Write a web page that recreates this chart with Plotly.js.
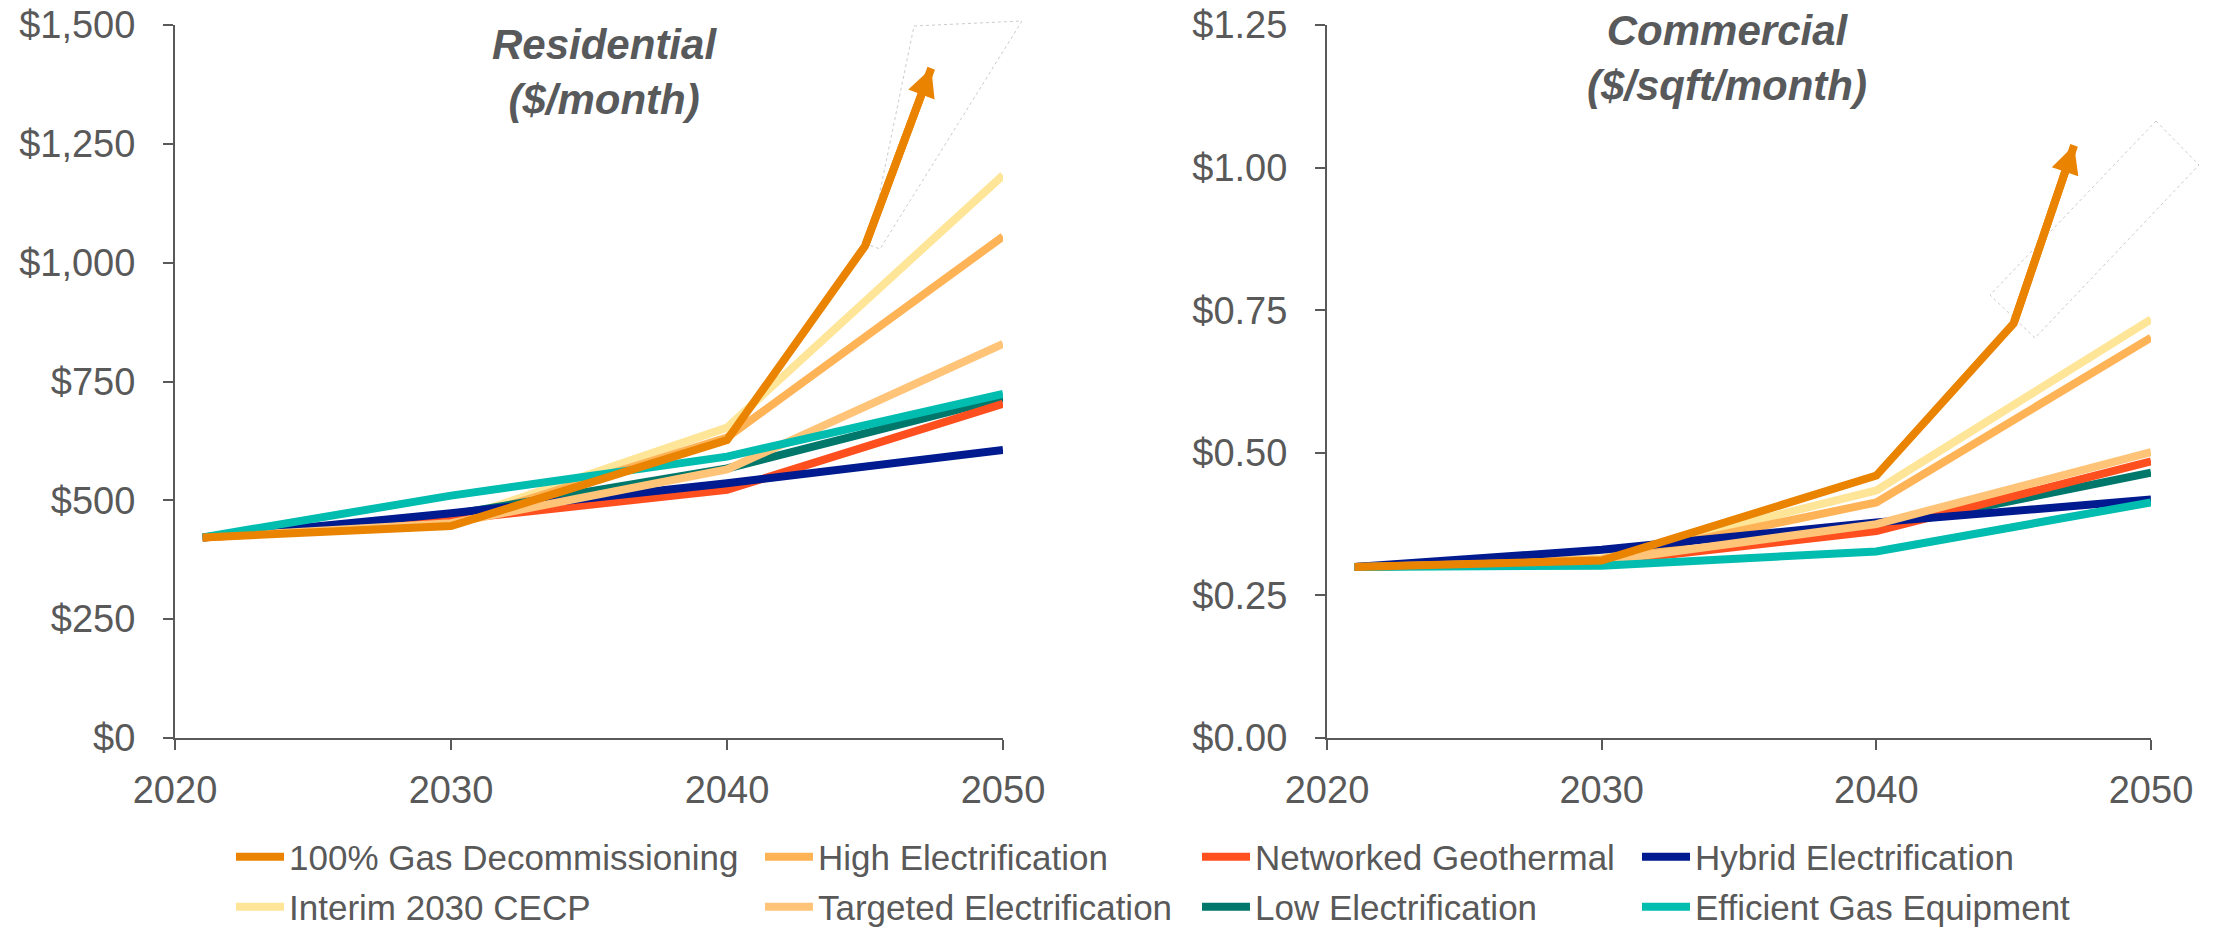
<!DOCTYPE html>
<html>
<head>
<meta charset="utf-8">
<script src="https://cdn.plot.ly/plotly-3.0.1.min.js"></script>
<style>
  html, body { margin: 0; padding: 0; background: #ffffff; }
  #chart { width: 2213px; height: 929px; }
</style>
</head>
<body>
<div id="chart"></div>
<script>
// Scenario years
const years = [2021, 2030, 2040, 2050];
const resGasYears = [2021, 2030, 2040, 2045, 2047.4];
const comGasYears = [2021, 2030, 2040, 2045, 2047.2];

// Residential bills ($/month)
const resGasDecommissioning = [422, 446, 627, 1035, 1409];
const resHighElectrification = [422, 452, 632, 1055];
const resNetworkedGeothermal = [422, 459, 522, 703];
const resHybridElectrification = [422, 473, 536, 606];
const resInterimCECP = [422, 456, 653, 1184];
const resTargetedElectrification = [422, 452, 565, 829];
const resLowElectrification = [422, 470, 567, 715];
const resEfficientGas = [422, 510, 592, 724];

// Commercial bills ($/sqft/month)
const comGasDecommissioning = [0.300, 0.311, 0.460, 0.727, 1.039];
const comHighElectrification = [0.300, 0.313, 0.413, 0.702];
const comNetworkedGeothermal = [0.300, 0.308, 0.363, 0.485];
const comHybridElectrification = [0.300, 0.330, 0.378, 0.418];
const comInterimCECP = [0.300, 0.315, 0.434, 0.734];
const comTargetedElectrification = [0.300, 0.310, 0.375, 0.501];
const comLowElectrification = [0.300, 0.309, 0.368, 0.465];
const comEfficientGas = [0.300, 0.302, 0.327, 0.413];

// Tick labels
const xTicks = [2020, 2030, 2040, 2050];

const W = 2213, H = 929;
const px = x => x / W;
const py = y => 1 - y / H;

const FONT = 'Liberation Sans, Arial, Helvetica, sans-serif';
const GREY = '#595959';
const LINE_W = 8;

// Legend slots: two rows of four columns, one single-entry legend per slot
const legendCols = [231, 760, 1197, 1637];
const legendRows = [857, 907];

// drawn bottom to top; col/row place the legend entry
const series = [
  { name: 'Interim 2030 CECP', color: '#FFE597', col: 0, row: 1, res: resInterimCECP, com: comInterimCECP },
  { name: 'High Electrification', color: '#FFB357', col: 1, row: 0, res: resHighElectrification, com: comHighElectrification },
  { name: 'Low Electrification', color: '#00776B', col: 2, row: 1, res: resLowElectrification, com: comLowElectrification },
  { name: 'Networked Geothermal', color: '#FF4F1F', col: 2, row: 0, res: resNetworkedGeothermal, com: comNetworkedGeothermal },
  { name: 'Hybrid Electrification', color: '#001A8F', col: 3, row: 0, res: resHybridElectrification, com: comHybridElectrification },
  { name: 'Targeted Electrification', color: '#FFC478', col: 1, row: 1, res: resTargetedElectrification, com: comTargetedElectrification },
  { name: 'Efficient Gas Equipment', color: '#00BDB0', col: 3, row: 1, res: resEfficientGas, com: comEfficientGas },
];

const legendBase = {
  orientation: 'v', xanchor: 'left', yanchor: 'middle',
  font: { family: FONT, size: 35, color: GREY },
  bgcolor: 'rgba(0,0,0,0)', borderwidth: 0, itemwidth: 48
};
const legendLayouts = {};
let legendCount = 0;
function legendFor(col, row) {
  legendCount += 1;
  const id = legendCount === 1 ? 'legend' : 'legend' + legendCount;
  legendLayouts[id] = Object.assign({}, legendBase, { x: px(legendCols[col]), y: py(legendRows[row]) });
  return id;
}

const traces = [];
series.forEach(s => {
  traces.push({
    type: 'scatter', mode: 'lines', name: s.name, x: years, y: s.res,
    xaxis: 'x', yaxis: 'y', legend: legendFor(s.col, s.row),
    line: { color: s.color, width: LINE_W }
  });
  traces.push({
    type: 'scatter', mode: 'lines', name: s.name, x: years, y: s.com,
    xaxis: 'x2', yaxis: 'y2', showlegend: false,
    line: { color: s.color, width: LINE_W }
  });
});

// 100% gas decommissioning: the last segment is pulled back under an arrow head
const gasColor = '#E98300';
const gasName = '100% Gas Decommissioning';
const lastBackoff = xs => xs.map((_, i) => (i === xs.length - 1 ? 16 : 0));
traces.push({
  type: 'scatter', mode: 'lines', name: gasName,
  x: resGasYears, y: resGasDecommissioning, xaxis: 'x', yaxis: 'y',
  legend: legendFor(0, 0),
  line: { color: gasColor, width: LINE_W, backoff: lastBackoff(resGasYears) }
});
traces.push({
  type: 'scatter', mode: 'lines', name: gasName, showlegend: false,
  x: comGasYears, y: comGasDecommissioning, xaxis: 'x2', yaxis: 'y2',
  line: { color: gasColor, width: LINE_W, backoff: lastBackoff(comGasYears) }
});

// arrow heads at the end of the gas decommissioning paths
function arrowHead(xs, ys, xa, ya) {
  const n = xs.length;
  return {
    xref: xa, yref: ya, axref: xa, ayref: ya,
    x: xs[n - 1], y: ys[n - 1], ax: xs[n - 2], ay: ys[n - 2],
    text: '', showarrow: true, arrowhead: 2, arrowsize: 0.7, arrowwidth: LINE_W,
    arrowcolor: gasColor, standoff: 0, startstandoff: 0
  };
}

const axisBase = {
  showline: true, linecolor: GREY, linewidth: 2,
  ticks: 'outside', ticklen: 10, tickwidth: 2, tickcolor: GREY,
  showgrid: false, zeroline: false,
  tickfont: { family: FONT, size: 38, color: GREY },
  fixedrange: true
};

const dashed = { color: '#cccccc', width: 1, dash: 'dot' };
const pathOf = pts => pts.map((p, i) => (i ? 'L' : 'M') + px(p[0]) + ',' + py(p[1])).join(' ') + ' Z';

const layout = Object.assign({
  width: W, height: H,
  margin: { l: 0, r: 0, t: 0, b: 0, autoexpand: false },
  paper_bgcolor: '#ffffff', plot_bgcolor: '#ffffff',
  font: { family: FONT, color: GREY },
  showlegend: true,
  xaxis: Object.assign({}, axisBase, {
    domain: [px(175), px(1003)], range: [2020, 2050], tickvals: xTicks, anchor: 'y', ticklabelstandoff: 7
  }),
  yaxis: Object.assign({}, axisBase, {
    domain: [py(738), py(25)], range: [0, 1500], dtick: 250, tick0: 0,
    tickprefix: '$', tickformat: ',d', anchor: 'x', ticklabelstandoff: 20
  }),
  xaxis2: Object.assign({}, axisBase, {
    domain: [px(1327), px(2151)], range: [2020, 2050], tickvals: xTicks, anchor: 'y2', ticklabelstandoff: 7
  }),
  yaxis2: Object.assign({}, axisBase, {
    domain: [py(738), py(25)], range: [0, 1.25], dtick: 0.25, tick0: 0,
    tickprefix: '$', tickformat: '.2f', anchor: 'x2', ticklabelstandoff: 20
  }),
  annotations: [
    {
      xref: 'paper', yref: 'paper', x: px(604), y: py(19), xanchor: 'center', yanchor: 'top',
      text: '<b><i>Residential</i></b><br><b><i>($/month)</i></b>', showarrow: false,
      font: { family: FONT, size: 42, color: '#58595B' }, align: 'center'
    },
    {
      xref: 'paper', yref: 'paper', x: px(1727), y: py(5), xanchor: 'center', yanchor: 'top',
      text: '<b><i>Commercial</i></b><br><b><i>($/sqft/month)</i></b>', showarrow: false,
      font: { family: FONT, size: 42, color: '#58595B' }, align: 'center'
    },
    arrowHead(resGasYears, resGasDecommissioning, 'x', 'y'),
    arrowHead(comGasYears, comGasDecommissioning, 'x2', 'y2')
  ],
  shapes: [
    { type: 'path', xref: 'paper', yref: 'paper', line: dashed,
      path: pathOf([[914, 26], [1022, 21], [880, 249], [869, 245]]) },
    { type: 'path', xref: 'paper', yref: 'paper', line: dashed,
      path: pathOf([[2156, 121], [2199, 165], [2035, 338], [1990, 295]]) }
  ]
}, legendLayouts);

Plotly.newPlot('chart', traces, layout, { displayModeBar: false, staticPlot: true });
</script>
</body>
</html>
